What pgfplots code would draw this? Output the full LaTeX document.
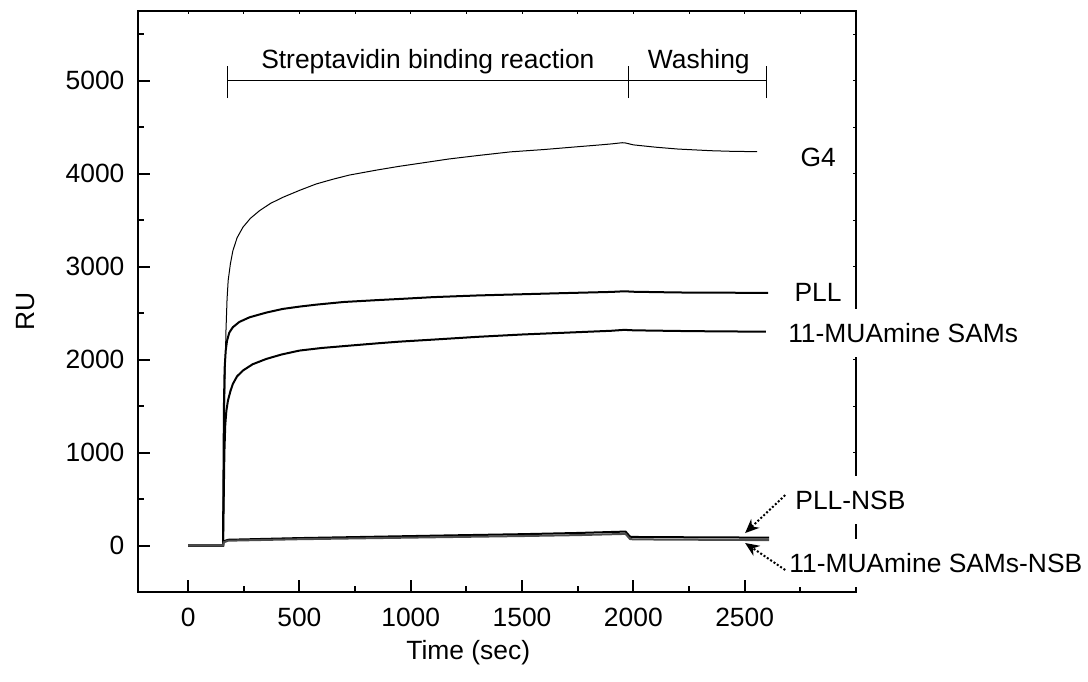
\documentclass[border=0pt]{standalone}
\usepackage{fontspec}
\setmainfont{Liberation Sans}
\usepackage{pgfplots}
\pgfplotsset{compat=1.18}
\usetikzlibrary{arrows.meta}

% one image pixel = 0.5pt
\pgfplotsset{spr/.style={
  scale only axis, width=359pt, height=290.5pt,
  xmin=-225, xmax=3000, ymin=-500, ymax=5750,
  /pgf/number format/1000 sep={}, /pgf/number format/assume math mode=true,
  scaled ticks=false, tick align=inside,
  axis line style={line width=1pt}}}

\begin{document}
\fontsize{13.2}{15.8}\selectfont
\begin{tikzpicture}
\useasboundingbox (-69pt,-44.5pt) rectangle ++(544pt,340.5pt);
\begin{axis}[spr,
  xtick={0,500,...,2500}, minor xtick={250,750,...,2750},
  ytick={0,1000,...,5000}, minor ytick={-500,500,...,5500},
  xtick pos=left, ytick pos=left,
  major tick length=6pt, minor tick length=3pt,
  every tick/.style={line width=1pt,black},
  xticklabel style={yshift=-3.4pt}, yticklabel style={xshift=-2.2pt},
  xlabel={Time (sec)}, ylabel={RU},
  xlabel style={at={(axis description cs:0.46,-0.105)},anchor=center},
  ylabel style={at={(axis description cs:-0.157,0.483)},anchor=center},
  clip=false]
% G4
\addplot[black,line width=0.5pt] coordinates {
(0,0) (157,0) (160,700) (165,1700) (170,2300) (175,2650) (180,2850) (190,3030)
(201,3170) (220,3310) (246,3423) (280,3520) (321,3602) (370,3680) (425,3745)
(500,3820) (575,3889) (650,3940) (724,3985) (850,4040) (948,4079) (1050,4115)
(1171,4158) (1300,4195) (1450,4235) (1600,4260) (1750,4290) (1843,4308)
(1900,4320) (1950,4333) (1965,4330) (2000,4310) (2100,4285) (2200,4265)
(2350,4247) (2450,4240) (2556,4237)};
% PLL
\addplot[black,line width=1pt] coordinates {
(0,0) (157,0) (159,800) (161,1500) (164,1900) (169,2097) (175,2204) (185,2290)
(201,2348) (230,2405) (276,2455) (350,2505) (425,2545) (500,2570) (575,2591)
(700,2620) (850,2640) (948,2652) (1100,2672) (1300,2690) (1500,2703)
(1700,2716) (1900,2728) (1960,2735) (2000,2730) (2200,2722) (2400,2720)
(2605,2717)};
% 11-MUAmine SAMs
\addplot[black,line width=1pt] coordinates {
(0,0) (157,0) (160,500) (163,1000) (167,1300) (172,1450) (179,1559) (190,1660)
(201,1738) (220,1820) (246,1882) (290,1950) (351,2007) (420,2055) (500,2097)
(600,2125) (724,2150) (850,2175) (948,2193) (1100,2215) (1300,2245)
(1500,2270) (1700,2290) (1900,2310) (1960,2320) (2000,2315) (2200,2308)
(2400,2303) (2595,2301)};
% PLL-NSB
\addplot[black,line width=1pt] coordinates {
(0,0) (157,0) (160,45) (180,62) (500,80) (850,95) (1200,110) (1500,122)
(1750,135) (1965,150) (1985,95) (2000,92) (2300,88) (2610,85)};
% 11-MUAmine SAMs-NSB
\addplot[black!70,line width=1pt] coordinates {
(0,0) (157,0) (160,35) (180,52) (500,68) (850,80) (1200,92) (1500,102)
(1750,112) (1965,125) (1985,70) (2000,66) (2300,62) (2610,58)};
% phase brackets
\draw[line width=0.7pt] (axis cs:176,5000) -- (axis cs:2600,5000);
\draw[line width=0.5pt] (axis cs:176,4812) -- (axis cs:176,5162)
  (axis cs:1980,4812) -- (axis cs:1980,5162)
  (axis cs:2600,4812) -- (axis cs:2600,5162);
\node[anchor=base] at (axis cs:1077,5135) {Streptavidin binding reaction};
\node[anchor=base] at (axis cs:2294,5135) {Washing};
\end{axis}
\begin{axis}[spr,
  xtick={0,250,...,3000}, ytick={-500,0,...,5500},
  xtick pos=right, ytick pos=right,
  xticklabels={}, yticklabels={},
  major tick length=1.5pt, every tick/.style={line width=0.5pt,black},
  clip=false]
\addplot[draw=none] coordinates {(0,0)};
\begin{scope}[every node/.style={fill=white,anchor=west,inner xsep=1pt,minimum height=24pt}]
\node at (axis cs:2740,4173) {G4};
\node at (axis cs:2713,2723) {PLL};
\node at (axis cs:2685,2283) {11-MUAmine SAMs};
\node at (axis cs:2717,489) {PLL-NSB};
\node at (axis cs:2690,-188) {11-MUAmine SAMs-NSB};
\end{scope}
\draw[line width=1pt,dash pattern=on 1pt off 1pt,-{Stealth[length=7pt,width=6pt]}]
  (axis cs:2682,542) -- (axis cs:2502,134);
\draw[line width=1pt,dash pattern=on 1pt off 1pt,-{Stealth[length=7pt,width=6pt]}]
  (axis cs:2682,-263) -- (axis cs:2502,27);
\end{axis}
\end{tikzpicture}
\end{document}
